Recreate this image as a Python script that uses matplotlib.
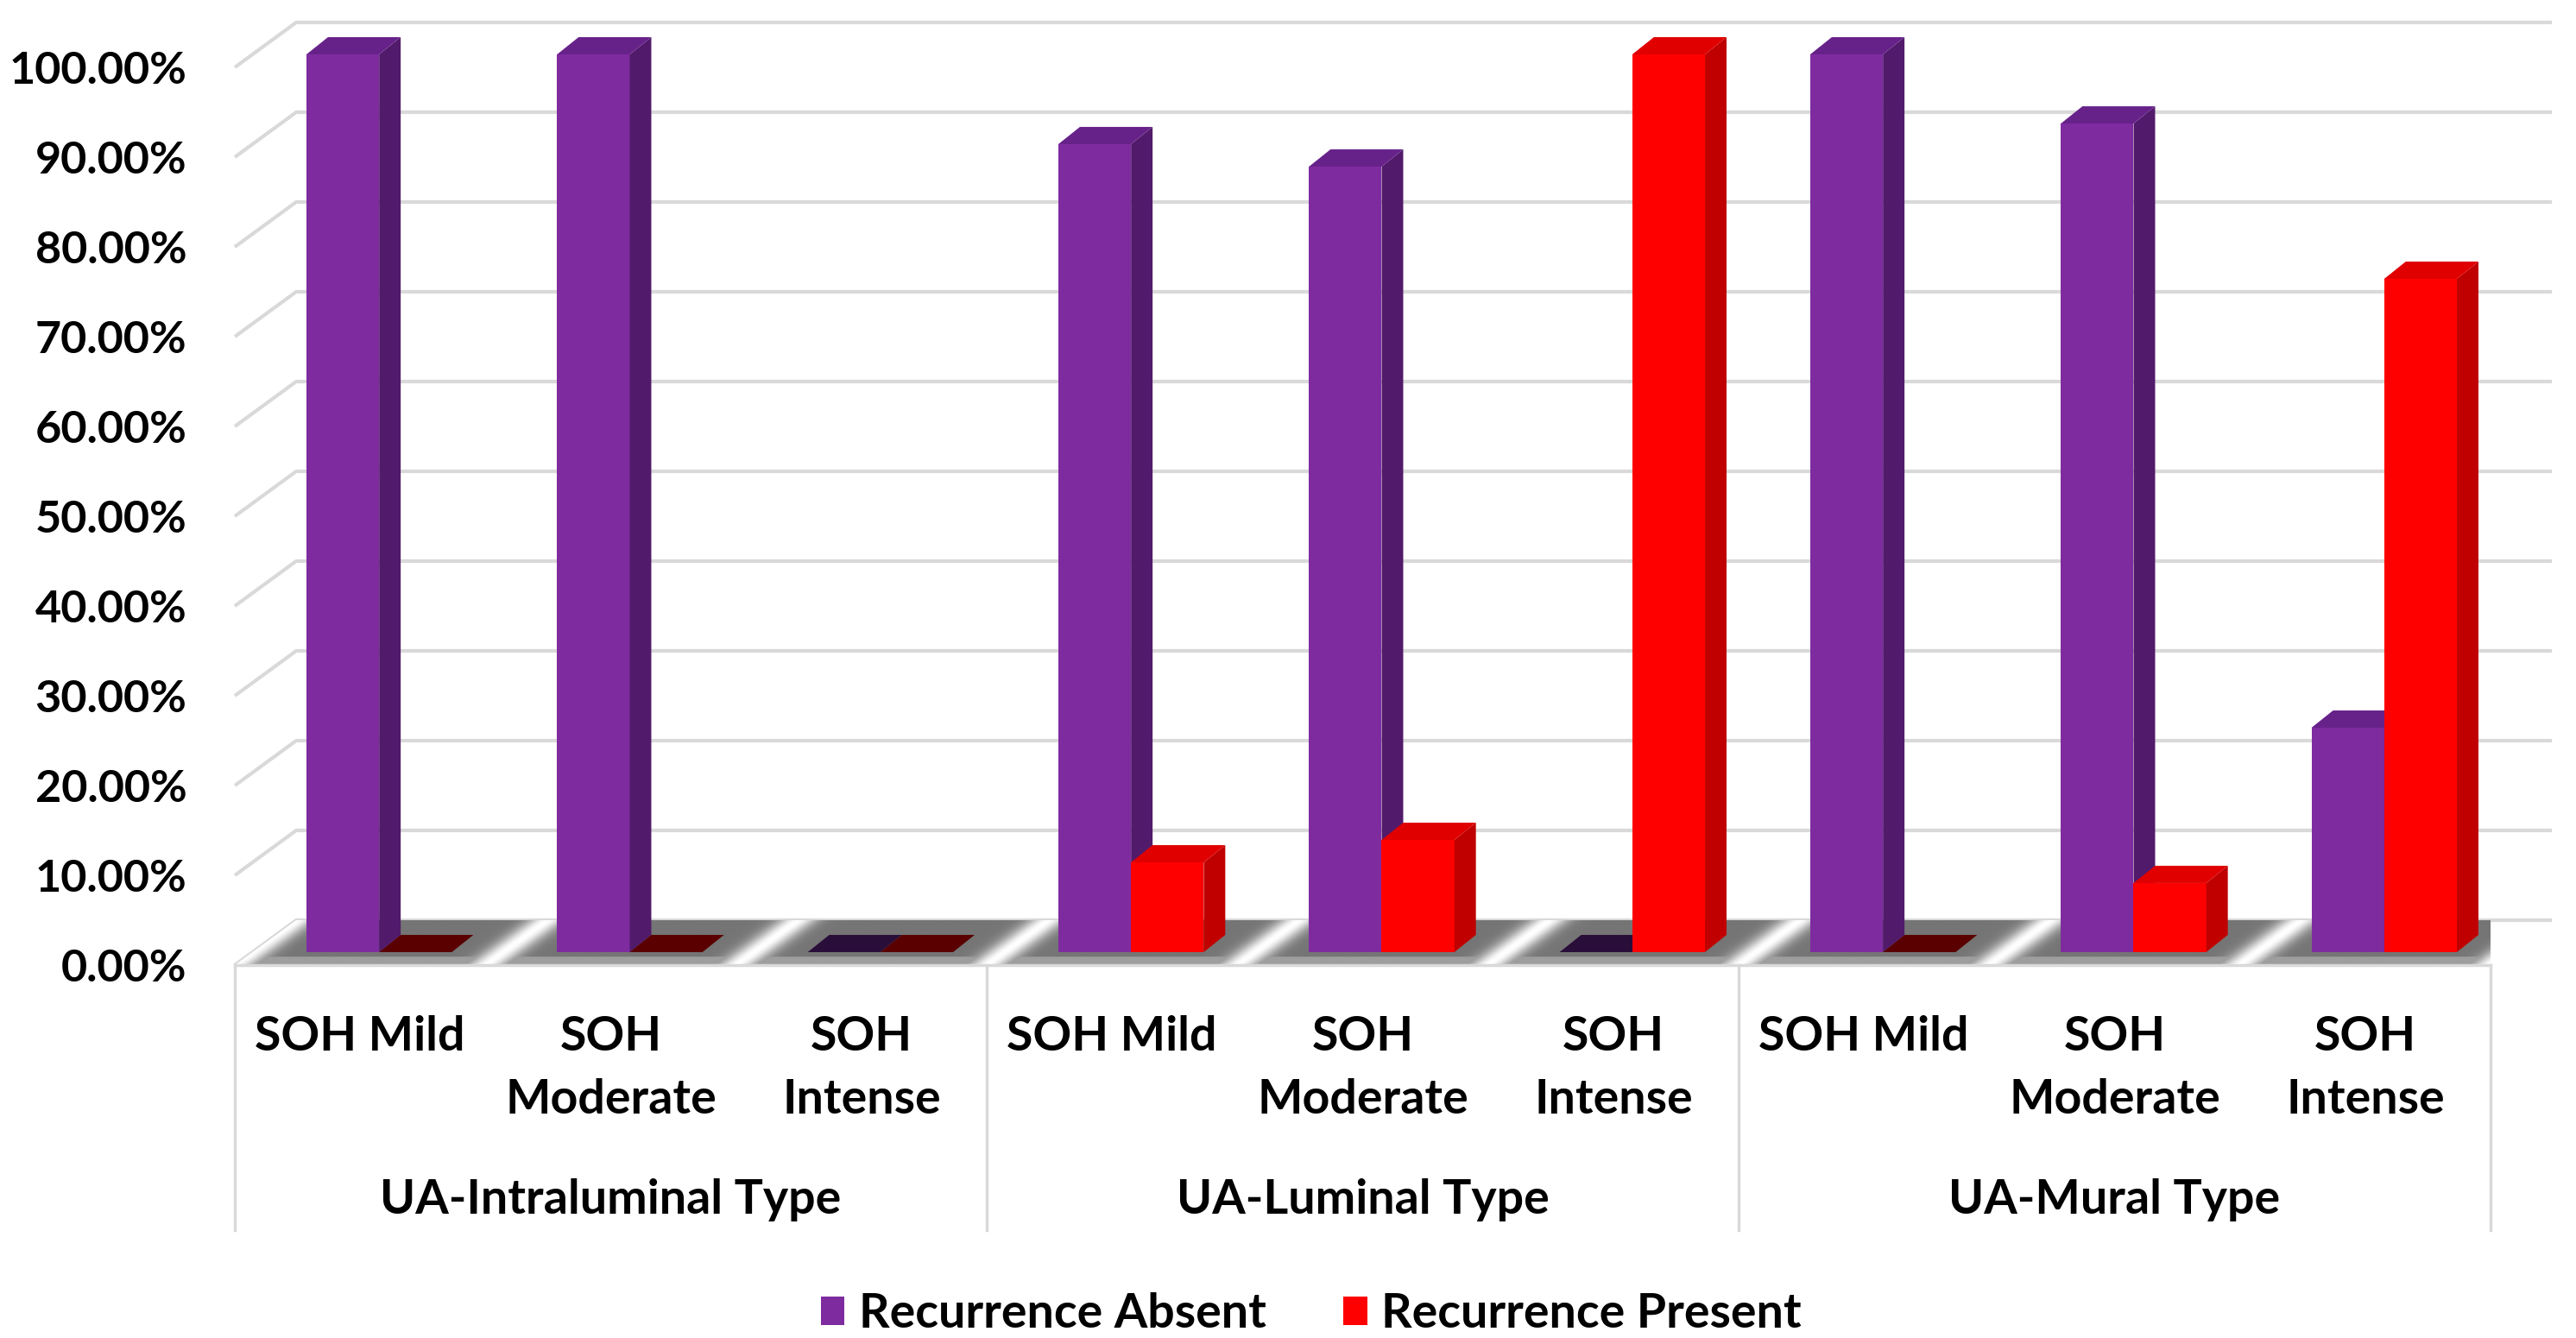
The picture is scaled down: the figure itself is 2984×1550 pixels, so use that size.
import numpy as np
import matplotlib
matplotlib.use("Agg")
import matplotlib.pyplot as plt
from matplotlib.patches import Polygon, Patch
from matplotlib import transforms

plt.rcParams["font.family"] = ["Lato", "DejaVu Sans"]
plt.rcParams["font.weight"] = "bold"

# data
groups = ["UA-Intraluminal Type", "UA-Luminal Type", "UA-Mural Type"]
levels = ["SOH Mild", "SOH\nModerate", "SOH\nIntense"]
absent = [100, 100, 0, 90, 87.5, 0, 100, 92.3, 25]
present = [0, 0, 0, 10, 12.5, 100, 0, 7.7, 75]
series_names = ["Recurrence Absent", "Recurrence Present"]
yticks = list(range(0, 101, 10))

# front / side / top / flat(zero) colours per series
purple = ("#7F2BA0", "#521A6B", "#67228A", "#2A0E3A")
red = ("#FF0000", "#C00000", "#E00000", "#5A0000")

W, H = 2984, 1550
L, R, T, B = 272, 2885, 78, 1118
FS = 40
FS_TICK = 37.5
GRID = "#D9D9D9"

fig = plt.figure(figsize=(W / 100, H / 100), dpi=100)
ax = fig.add_axes([L / W, 1 - B / H, (R - L) / W, (B - T) / H])
ax.patch.set_visible(False)
for s in ax.spines.values():
    s.set_visible(False)

n = len(absent)
wdx, wdy = 0.245, 5.0   # depth of walls/floor in data units

# back wall + side wall gridlines
for v in yticks:
    ax.plot([-0.5, -0.5 + wdx, n - 0.5 + wdx], [v, v + wdy, v + wdy],
            color=GRID, lw=3, zorder=0, clip_on=False, solid_capstyle="butt")

# floor with light streaks at category boundaries
floor = Polygon([(-0.5, 0), (n - 0.5, 0), (n - 0.5 + wdx, wdy), (-0.5 + wdx, wdy)],
                closed=True, facecolor="none", edgecolor="none")
ax.add_patch(floor)
gx = np.linspace(-0.5, n - 0.5 + wdx, 1800)
gy = np.linspace(0, wdy, 80)
GX, GY = np.meshgrid(gx, gy)
U = GX - GY / wdy * wdx
d = np.abs(U - (np.round(U - 0.5) + 0.5))
shade = 0.46 + 0.54 * np.exp(-(d / 0.075) ** 2)
shade[GY < 0.9] = np.maximum(shade[GY < 0.9], 0.62)
im = ax.imshow(shade, extent=[gx[0], gx[-1], 0, wdy], origin="lower", aspect="auto",
               cmap="gray", vmin=0, vmax=1, zorder=1, interpolation="bilinear")
im.set_clip_box(None)
im.set_clip_path(floor)

# 3d-looking columns
shift = transforms.offset_copy(ax.transData, fig=fig, x=22, y=15, units="dots")
bw = 0.29
ddx, ddy = 0.086, 1.92
z = 2
for i in range(n):
    for k, (vals, cols) in enumerate([(absent, purple), (present, red)]):
        x0 = i - bw + k * bw
        x1 = x0 + bw
        h = vals[i]
        front, side, top, flat = cols
        if h > 0:
            ax.bar(x0, h, width=bw, align="edge", color=front, transform=shift,
                   zorder=z, clip_on=False, linewidth=0)
            ax.add_patch(Polygon([(x1, 0), (x1 + ddx, ddy), (x1 + ddx, h + ddy), (x1, h)],
                                 facecolor=side, edgecolor="none", transform=shift,
                                 zorder=z, clip_on=False))
            ax.add_patch(Polygon([(x0, h), (x1, h), (x1 + ddx, h + ddy), (x0 + ddx, h + ddy)],
                                 facecolor=top, edgecolor="none", transform=shift,
                                 zorder=z, clip_on=False))
        else:
            ax.add_patch(Polygon([(x0, 0), (x1, 0), (x1 + ddx, ddy), (x0 + ddx, ddy)],
                                 facecolor=flat, edgecolor="none", transform=shift,
                                 zorder=z, clip_on=False))
        z += 1

ax.set_xlim(-0.5, n - 0.5)
ax.set_ylim(0, 100)

ax.set_yticks(yticks)
ax.set_yticklabels([f"{v:.2f}%" for v in yticks], fontsize=FS_TICK, fontweight="bold")
ax.tick_params(axis="y", length=0, pad=40)
ax.set_xticks([])

# multi-level category axis
xt = ax.get_xaxis_transform()
line_y = [(B - 1201) / (B - T), (B - 1274) / (B - T)]
for i in range(n):
    lab = levels[i % len(levels)]
    for j, part in enumerate(lab.split("\n")):
        ax.text(i, line_y[j], part, transform=xt, ha="center", va="center",
                fontsize=FS, fontweight="bold")
for g, name in enumerate(groups):
    ax.text(g * 3 + 1, (B - 1390) / (B - T), name, transform=xt, ha="center",
            va="center", fontsize=FS, fontweight="bold")

box_bottom = (B - 1425) / (B - T)
ax.plot([-0.5, n - 0.5], [0, 0], transform=xt, color=GRID, lw=2.5, clip_on=False, zorder=1.5)
for xb in [-0.5, 2.5, 5.5, 8.5]:
    ax.plot([xb, xb], [0, box_bottom], transform=xt, color=GRID, lw=2.5, clip_on=False)

handles = [Patch(facecolor=purple[0], label=series_names[0]),
           Patch(facecolor=red[0], label=series_names[1])]
fig.legend(handles=handles, loc="center", bbox_to_anchor=(0.509, 1 - 1522 / H), ncol=2,
           frameon=False, prop={"size": FS, "weight": "bold"}, handlelength=0.5,
           handleheight=0.55, handletextpad=0.3, columnspacing=1.6)

fig.savefig("out.png", dpi=100)
